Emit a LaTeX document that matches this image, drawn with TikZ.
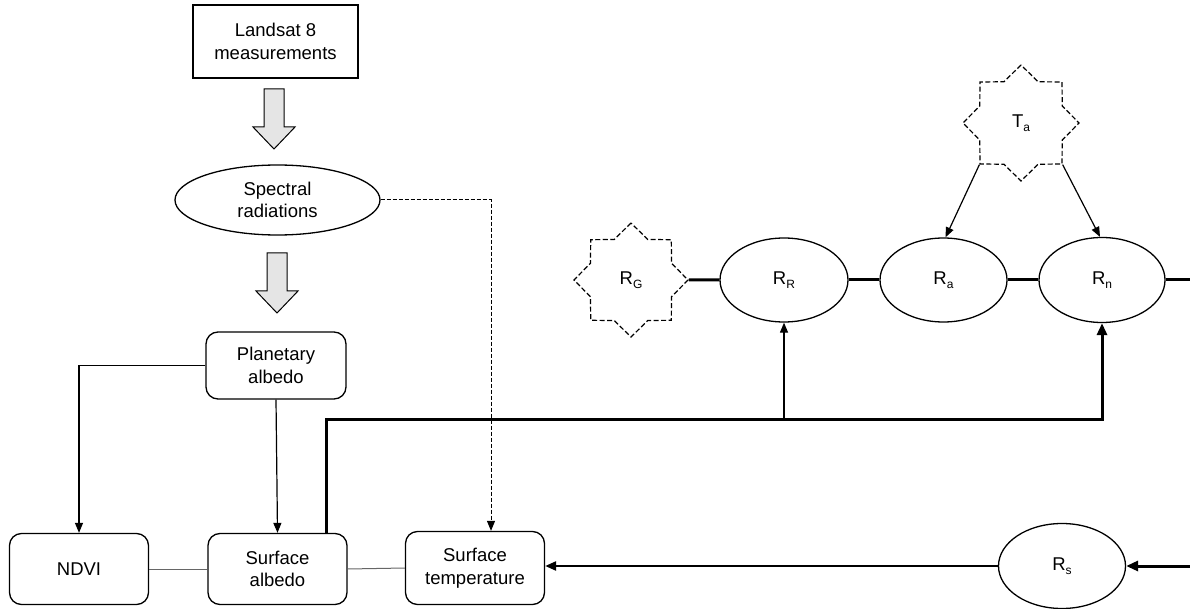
\documentclass[tikz,border=0pt]{standalone}
\usepackage{fontspec}
\setmainfont{Liberation Sans}
\usetikzlibrary{shapes.geometric,arrows.meta,calc}
\newcommand{\subtxt}[1]{\raisebox{-4.5pt}{\fontsize{12}{12}\selectfont #1}}
\begin{document}
\begin{tikzpicture}[x=1pt,y=-1pt,
  font=\fontsize{18.5}{22.5}\selectfont,
  every node/.style={inner sep=0pt,align=center},
  sqbox/.style={draw,line width=1.3pt,rectangle},
  rbox/.style={draw,line width=1.3pt,rectangle,rounded corners=12pt,minimum width=139pt,minimum height=71pt},
  ell/.style={draw,line width=1.3pt,ellipse},
  starnode/.style={draw,line width=1.2pt,dash pattern=on 5pt off 2.5pt,star,star points=8,star point ratio=1.3},
  thinarrow/.style={line width=1.2pt,-{Triangle[length=10pt,width=8pt]}},
  thickline/.style={line width=3pt},
  thickarrow/.style={line width=3pt,-{Triangle[length=12pt,width=10pt]}},
  medarrow/.style={line width=2.4pt,-{Triangle[length=11pt,width=9pt]}},
  greyline/.style={line width=1pt,draw=black!60},
  bigarrow/.pic={\draw[fill=gray!20,line width=1pt] (-10,0) -- (10,0) -- (10,38) -- (21,38) -- (0,60) -- (-21,38) -- (-10,38) -- cycle;}
]
\useasboundingbox (0,0) rectangle (1190,609);

% nodes
\node[sqbox,minimum width=165pt,minimum height=73pt] (landsat) at (275.5,41.5) {Landsat 8\\measurements};
\node[ell,minimum width=205pt,minimum height=70pt] (spectral) at (277.5,200) {Spectral\\radiations};
\node[rbox,minimum width=140pt,minimum height=67pt] (planetary) at (276,365.5) {Planetary\\albedo};
\node[rbox] (ndvi) at (79,569) {NDVI};
\node[rbox] (salb) at (277.5,569) {Surface\\albedo};
\node[rbox,minimum height=73pt] (stemp) at (475,568) {Surface\\temperature};

\node[starnode,minimum size=114pt] (rg) at (631,280) {R\subtxt{G}};
\node[ell,minimum width=128pt,minimum height=84pt] (rr) at (784,280) {R\subtxt{R}};
\node[ell,minimum width=127pt,minimum height=84pt] (ra) at (943.5,280) {R\subtxt{a}};
\node[ell,minimum width=126pt,minimum height=85pt] (rn) at (1102,280) {R\subtxt{n}};
\node[starnode,minimum size=116pt] (ta) at (1021,123) {T\subtxt{a}};
\node[ell,minimum width=127pt,minimum height=85pt] (rs) at (1062,566) {R\subtxt{s}};

\coordinate (rowend) at (1190,280);
\coordinate (rsin) at (1190,566);
\coordinate (c1) at (326,419.5);

% grey block arrows
\pic at (274,89) {bigarrow};
\pic at (277,253) {bigarrow};

% connectors
\draw[thinarrow] (planetary.west) -| (ndvi.north);
\draw[thinarrow] (planetary.south) -- (salb.north);
\draw[thinarrow,dash pattern=on 4pt off 2pt,line width=1pt] (spectral.east) -| ($(stemp.north)+(16,0)$);
\draw[greyline] (ndvi.east) -- (salb.west);
\draw[greyline] (salb.east) -- (stemp.west);

\draw[thickline] (rg.east) -- (rr.west);
\draw[thickline] (rr.east) -- (ra.west);
\draw[thickline] (ra.east) -- (rn.west);
\draw[thickline] (rn.east) -- (rowend);

\draw[thinarrow] (ta.outer point 4) -- ($(ra.north)+(2,0)$);
\draw[thinarrow] (ta.outer point 6) -- ($(rn.north)+(-2,0)$);

\draw[thickarrow] (c1 |- salb.north) -- (c1) -| (rn.south);
\draw[thinarrow] (rr.south |- c1) -- (rr.south);

\draw[thickarrow] (rsin) -- (rs.east);
\draw[medarrow] (rs.west) -- (rs.west -| stemp.east);
\end{tikzpicture}
\end{document}
